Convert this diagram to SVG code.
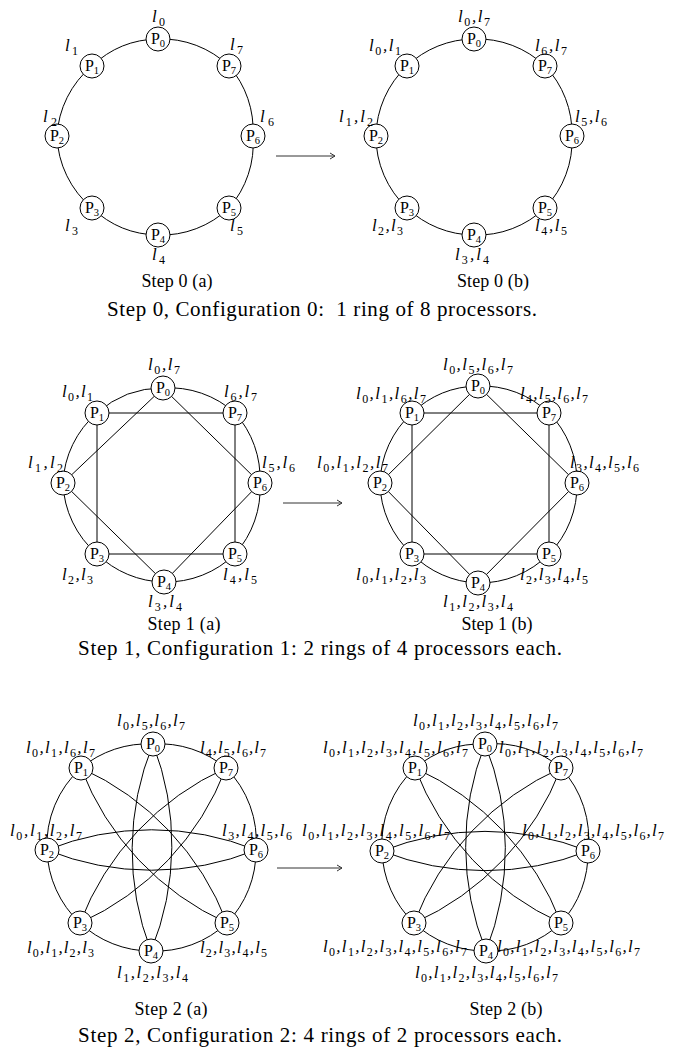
<svg xmlns="http://www.w3.org/2000/svg" width="678" height="1047" viewBox="0 0 678 1047">
<defs>
<style>
.nd circle{fill:#fff;stroke:#000;stroke-width:1}
.nt{font-family:"Liberation Serif",serif;font-size:16px;text-anchor:middle;fill:#000}
.ns{font-size:10.5px}
.lb{font-family:"Liberation Serif",serif;font-size:17px;font-style:italic;fill:#000}
.s{font-size:12px;font-style:normal}
.st{font-family:"Liberation Serif",serif;font-size:18px;text-anchor:middle;fill:#000}
.cap{font-family:"Liberation Serif",serif;font-size:21px;fill:#000}
#connectors path{fill:none;stroke:#000;stroke-width:1}
#connectors .ar{stroke:#333}
</style>
<marker id="ah" markerWidth="8" markerHeight="8" refX="7" refY="4" orient="auto" markerUnits="userSpaceOnUse">
<path d="M2,1 L7,4 L2,7" fill="none" stroke="#333" stroke-width="1"/>
</marker>
</defs>
<rect width="678" height="1047" fill="#fff"/>
<g id="connectors">
<path d="M158,39 A98,98 0 0 0 92,66 A98,98 0 0 0 57,136 A98,98 0 0 0 92,208 A98,98 0 0 0 158,235 A98,98 0 0 0 229,208 A98,98 0 0 0 253,136 A98,98 0 0 0 229,66 A98,98 0 0 0 158,39"/>
<path d="M474,39 A98,98 0 0 0 407,66 A98,98 0 0 0 376,136 A98,98 0 0 0 407,208 A98,98 0 0 0 474,235 A98,98 0 0 0 545,208 A98,98 0 0 0 572,136 A98,98 0 0 0 545,66 A98,98 0 0 0 474,39"/>
<path class="ar" d="M276,156 L335,156" marker-end="url(#ah)"/>
<path d="M163,388 A98,98 0 0 0 97,413 A98,98 0 0 0 63,483 A98,98 0 0 0 97,554 A98,98 0 0 0 164,582 A98,98 0 0 0 235,554 A98,98 0 0 0 260,483 A98,98 0 0 0 235,413 A98,98 0 0 0 163,388"/>
<path d="M97,413 L235,413 L235,554 L97,554 Z M163,388 L260,483 L164,582 L63,483 Z"/>
<path d="M478,386 A98,98 0 0 0 412,413 A98,98 0 0 0 380,483 A98,98 0 0 0 412,554 A98,98 0 0 0 478,583 A98,98 0 0 0 549,554 A98,98 0 0 0 577,483 A98,98 0 0 0 549,413 A98,98 0 0 0 478,386"/>
<path d="M412,413 L549,413 L549,554 L412,554 Z M478,386 L577,483 L478,583 L380,483 Z"/>
<path class="ar" d="M283,503 L342,503" marker-end="url(#ah)"/>
<path d="M153,744 A104,104 0 0 0 81,768 A104,104 0 0 0 47,850 A104,104 0 0 0 80,923 A104,104 0 0 0 151,951 A104,104 0 0 0 227,923 A104,104 0 0 0 256,850 A104,104 0 0 0 226,768 A104,104 0 0 0 153,744"/>
<path d="M153,744 A280,280 0 0 0 151,951 A280,280 0 0 0 153,744 M47,850 A280,280 0 0 0 256,850 A280,280 0 0 0 47,850 M81,768 A280,280 0 0 0 227,923 A280,280 0 0 0 81,768 M80,923 A280,280 0 0 0 226,768 A280,280 0 0 0 80,923"/>
<path d="M485,744 A104,104 0 0 0 415,768 A104,104 0 0 0 382,851 A104,104 0 0 0 414,923 A104,104 0 0 0 486,951 A104,104 0 0 0 561,923 A104,104 0 0 0 588,851 A104,104 0 0 0 561,768 A104,104 0 0 0 485,744"/>
<path d="M485,744 A280,280 0 0 0 486,951 A280,280 0 0 0 485,744 M382,851 A280,280 0 0 0 588,851 A280,280 0 0 0 382,851 M415,768 A280,280 0 0 0 561,923 A280,280 0 0 0 415,768 M414,923 A280,280 0 0 0 561,768 A280,280 0 0 0 414,923"/>
<path class="ar" d="M277,868 L342,868" marker-end="url(#ah)"/>
</g>

<g id="s0a-P0" class="nd"><circle cx="158" cy="39" r="12"/><text class="nt" x="158" y="44">P<tspan class="ns" dy="3">0</tspan></text><text class="lb" x="152" y="22" textLength="13">l<tspan class="s" dy="4">0</tspan></text></g>
<g id="s0a-P1" class="nd"><circle cx="92" cy="66" r="12"/><text class="nt" x="92" y="71">P<tspan class="ns" dy="3">1</tspan></text><text class="lb" x="65" y="51" textLength="13">l<tspan class="s" dy="4">1</tspan></text></g>
<g id="s0a-P2" class="nd"><circle cx="57" cy="136" r="12"/><text class="nt" x="57" y="141">P<tspan class="ns" dy="3">2</tspan></text><text class="lb" x="43" y="122" textLength="14">l<tspan class="s" dy="4">2</tspan></text></g>
<g id="s0a-P3" class="nd"><circle cx="92" cy="208" r="12"/><text class="nt" x="92" y="213">P<tspan class="ns" dy="3">3</tspan></text><text class="lb" x="65" y="231" textLength="13">l<tspan class="s" dy="4">3</tspan></text></g>
<g id="s0a-P4" class="nd"><circle cx="158" cy="235" r="12"/><text class="nt" x="158" y="240">P<tspan class="ns" dy="3">4</tspan></text><text class="lb" x="152" y="260" textLength="13">l<tspan class="s" dy="4">4</tspan></text></g>
<g id="s0a-P5" class="nd"><circle cx="229" cy="208" r="12"/><text class="nt" x="229" y="213">P<tspan class="ns" dy="3">5</tspan></text><text class="lb" x="230" y="231" textLength="13">l<tspan class="s" dy="4">5</tspan></text></g>
<g id="s0a-P6" class="nd"><circle cx="253" cy="136" r="12"/><text class="nt" x="253" y="141">P<tspan class="ns" dy="3">6</tspan></text><text class="lb" x="260" y="122" textLength="14">l<tspan class="s" dy="4">6</tspan></text></g>
<g id="s0a-P7" class="nd"><circle cx="229" cy="66" r="12"/><text class="nt" x="229" y="71">P<tspan class="ns" dy="3">7</tspan></text><text class="lb" x="230" y="50" textLength="13">l<tspan class="s" dy="4">7</tspan></text></g>

<g id="s0b-P0" class="nd"><circle cx="474" cy="39" r="12"/><text class="nt" x="474" y="44">P<tspan class="ns" dy="3">0</tspan></text><text class="lb" x="458" y="22" textLength="32">l<tspan class="s" dy="4">0</tspan><tspan dy="-4">,l</tspan><tspan class="s" dy="4">7</tspan></text></g>
<g id="s0b-P1" class="nd"><circle cx="407" cy="66" r="12"/><text class="nt" x="407" y="71">P<tspan class="ns" dy="3">1</tspan></text><text class="lb" x="369" y="51" textLength="32">l<tspan class="s" dy="4">0</tspan><tspan dy="-4">,l</tspan><tspan class="s" dy="4">1</tspan></text></g>
<g id="s0b-P2" class="nd"><circle cx="376" cy="136" r="12"/><text class="nt" x="376" y="141">P<tspan class="ns" dy="3">2</tspan></text><text class="lb" x="339" y="122" textLength="34">l<tspan class="s" dy="4">1</tspan><tspan dy="-4">,l</tspan><tspan class="s" dy="4">2</tspan></text></g>
<g id="s0b-P3" class="nd"><circle cx="407" cy="208" r="12"/><text class="nt" x="407" y="213">P<tspan class="ns" dy="3">3</tspan></text><text class="lb" x="372" y="231" textLength="31">l<tspan class="s" dy="4">2</tspan><tspan dy="-4">,l</tspan><tspan class="s" dy="4">3</tspan></text></g>
<g id="s0b-P4" class="nd"><circle cx="474" cy="235" r="12"/><text class="nt" x="474" y="240">P<tspan class="ns" dy="3">4</tspan></text><text class="lb" x="455" y="260" textLength="34">l<tspan class="s" dy="4">3</tspan><tspan dy="-4">,l</tspan><tspan class="s" dy="4">4</tspan></text></g>
<g id="s0b-P5" class="nd"><circle cx="545" cy="208" r="12"/><text class="nt" x="545" y="213">P<tspan class="ns" dy="3">5</tspan></text><text class="lb" x="535" y="231" textLength="32">l<tspan class="s" dy="4">4</tspan><tspan dy="-4">,l</tspan><tspan class="s" dy="4">5</tspan></text></g>
<g id="s0b-P6" class="nd"><circle cx="572" cy="136" r="12"/><text class="nt" x="572" y="141">P<tspan class="ns" dy="3">6</tspan></text><text class="lb" x="575" y="122" textLength="32">l<tspan class="s" dy="4">5</tspan><tspan dy="-4">,l</tspan><tspan class="s" dy="4">6</tspan></text></g>
<g id="s0b-P7" class="nd"><circle cx="545" cy="66" r="12"/><text class="nt" x="545" y="71">P<tspan class="ns" dy="3">7</tspan></text><text class="lb" x="535" y="51" textLength="32">l<tspan class="s" dy="4">6</tspan><tspan dy="-4">,l</tspan><tspan class="s" dy="4">7</tspan></text></g>

<g id="s0-labels">
<text class="st" x="177" y="287" textLength="71">Step 0 (a)</text>
<text class="st" x="493" y="287" textLength="72">Step 0 (b)</text>
<text class="cap" x="107" y="316" textLength="430">Step 0, Configuration 0:&#160; 1 ring of 8 processors.</text>
</g>

<g id="s1a-P0" class="nd"><circle cx="163" cy="388" r="12"/><text class="nt" x="163" y="393">P<tspan class="ns" dy="3">0</tspan></text><text class="lb" x="148" y="370" textLength="32">l<tspan class="s" dy="4">0</tspan><tspan dy="-4">,l</tspan><tspan class="s" dy="4">7</tspan></text></g>
<g id="s1a-P1" class="nd"><circle cx="97" cy="413" r="12"/><text class="nt" x="97" y="418">P<tspan class="ns" dy="3">1</tspan></text><text class="lb" x="62" y="397" textLength="31">l<tspan class="s" dy="4">0</tspan><tspan dy="-4">,l</tspan><tspan class="s" dy="4">1</tspan></text></g>
<g id="s1a-P2" class="nd"><circle cx="63" cy="483" r="12"/><text class="nt" x="63" y="488">P<tspan class="ns" dy="3">2</tspan></text><text class="lb" x="28" y="468" textLength="35">l<tspan class="s" dy="4">1</tspan><tspan dy="-4">,l</tspan><tspan class="s" dy="4">2</tspan></text></g>
<g id="s1a-P3" class="nd"><circle cx="97" cy="554" r="12"/><text class="nt" x="97" y="559">P<tspan class="ns" dy="3">3</tspan></text><text class="lb" x="62" y="580" textLength="31">l<tspan class="s" dy="4">2</tspan><tspan dy="-4">,l</tspan><tspan class="s" dy="4">3</tspan></text></g>
<g id="s1a-P4" class="nd"><circle cx="164" cy="582" r="12"/><text class="nt" x="164" y="587">P<tspan class="ns" dy="3">4</tspan></text><text class="lb" x="148" y="607" textLength="34">l<tspan class="s" dy="4">3</tspan><tspan dy="-4">,l</tspan><tspan class="s" dy="4">4</tspan></text></g>
<g id="s1a-P5" class="nd"><circle cx="235" cy="554" r="12"/><text class="nt" x="235" y="559">P<tspan class="ns" dy="3">5</tspan></text><text class="lb" x="223" y="580" textLength="34">l<tspan class="s" dy="4">4</tspan><tspan dy="-4">,l</tspan><tspan class="s" dy="4">5</tspan></text></g>
<g id="s1a-P6" class="nd"><circle cx="260" cy="483" r="12"/><text class="nt" x="260" y="488">P<tspan class="ns" dy="3">6</tspan></text><text class="lb" x="262" y="468" textLength="33">l<tspan class="s" dy="4">5</tspan><tspan dy="-4">,l</tspan><tspan class="s" dy="4">6</tspan></text></g>
<g id="s1a-P7" class="nd"><circle cx="235" cy="413" r="12"/><text class="nt" x="235" y="418">P<tspan class="ns" dy="3">7</tspan></text><text class="lb" x="224" y="397" textLength="33">l<tspan class="s" dy="4">6</tspan><tspan dy="-4">,l</tspan><tspan class="s" dy="4">7</tspan></text></g>

<g id="s1b-P0" class="nd"><circle cx="478" cy="386" r="12"/><text class="nt" x="478" y="391">P<tspan class="ns" dy="3">0</tspan></text><text class="lb" x="443" y="370" textLength="70">l<tspan class="s" dy="4">0</tspan><tspan dy="-4">,l</tspan><tspan class="s" dy="4">5</tspan><tspan dy="-4">,l</tspan><tspan class="s" dy="4">6</tspan><tspan dy="-4">,l</tspan><tspan class="s" dy="4">7</tspan></text></g>
<g id="s1b-P1" class="nd"><circle cx="412" cy="413" r="12"/><text class="nt" x="412" y="418">P<tspan class="ns" dy="3">1</tspan></text><text class="lb" x="356" y="399" textLength="70">l<tspan class="s" dy="4">0</tspan><tspan dy="-4">,l</tspan><tspan class="s" dy="4">1</tspan><tspan dy="-4">,l</tspan><tspan class="s" dy="4">6</tspan><tspan dy="-4">,l</tspan><tspan class="s" dy="4">7</tspan></text></g>
<g id="s1b-P2" class="nd"><circle cx="380" cy="483" r="12"/><text class="nt" x="380" y="488">P<tspan class="ns" dy="3">2</tspan></text><text class="lb" x="317" y="468" textLength="71">l<tspan class="s" dy="4">0</tspan><tspan dy="-4">,l</tspan><tspan class="s" dy="4">1</tspan><tspan dy="-4">,l</tspan><tspan class="s" dy="4">2</tspan><tspan dy="-4">,l</tspan><tspan class="s" dy="4">7</tspan></text></g>
<g id="s1b-P3" class="nd"><circle cx="412" cy="554" r="12"/><text class="nt" x="412" y="559">P<tspan class="ns" dy="3">3</tspan></text><text class="lb" x="356" y="580" textLength="70">l<tspan class="s" dy="4">0</tspan><tspan dy="-4">,l</tspan><tspan class="s" dy="4">1</tspan><tspan dy="-4">,l</tspan><tspan class="s" dy="4">2</tspan><tspan dy="-4">,l</tspan><tspan class="s" dy="4">3</tspan></text></g>
<g id="s1b-P4" class="nd"><circle cx="478" cy="583" r="12"/><text class="nt" x="478" y="588">P<tspan class="ns" dy="3">4</tspan></text><text class="lb" x="443" y="607" textLength="70">l<tspan class="s" dy="4">1</tspan><tspan dy="-4">,l</tspan><tspan class="s" dy="4">2</tspan><tspan dy="-4">,l</tspan><tspan class="s" dy="4">3</tspan><tspan dy="-4">,l</tspan><tspan class="s" dy="4">4</tspan></text></g>
<g id="s1b-P5" class="nd"><circle cx="549" cy="554" r="12"/><text class="nt" x="549" y="559">P<tspan class="ns" dy="3">5</tspan></text><text class="lb" x="520" y="580" textLength="68">l<tspan class="s" dy="4">2</tspan><tspan dy="-4">,l</tspan><tspan class="s" dy="4">3</tspan><tspan dy="-4">,l</tspan><tspan class="s" dy="4">4</tspan><tspan dy="-4">,l</tspan><tspan class="s" dy="4">5</tspan></text></g>
<g id="s1b-P6" class="nd"><circle cx="577" cy="483" r="12"/><text class="nt" x="577" y="488">P<tspan class="ns" dy="3">6</tspan></text><text class="lb" x="570" y="468" textLength="69">l<tspan class="s" dy="4">3</tspan><tspan dy="-4">,l</tspan><tspan class="s" dy="4">4</tspan><tspan dy="-4">,l</tspan><tspan class="s" dy="4">5</tspan><tspan dy="-4">,l</tspan><tspan class="s" dy="4">6</tspan></text></g>
<g id="s1b-P7" class="nd"><circle cx="549" cy="413" r="12"/><text class="nt" x="549" y="418">P<tspan class="ns" dy="3">7</tspan></text><text class="lb" x="520" y="399" textLength="68">l<tspan class="s" dy="4">4</tspan><tspan dy="-4">,l</tspan><tspan class="s" dy="4">5</tspan><tspan dy="-4">,l</tspan><tspan class="s" dy="4">6</tspan><tspan dy="-4">,l</tspan><tspan class="s" dy="4">7</tspan></text></g>

<g id="s1-labels">
<text class="st" x="184" y="630" textLength="73">Step 1 (a)</text>
<text class="st" x="497" y="630" textLength="71">Step 1 (b)</text>
<text class="cap" x="78" y="655" textLength="484">Step 1, Configuration 1: 2 rings of 4 processors each.</text>
</g>

<g id="s2a-P0" class="nd"><circle cx="153" cy="744" r="12"/><text class="nt" x="153" y="749">P<tspan class="ns" dy="3">0</tspan></text><text class="lb" x="117" y="726" textLength="68">l<tspan class="s" dy="4">0</tspan><tspan dy="-4">,l</tspan><tspan class="s" dy="4">5</tspan><tspan dy="-4">,l</tspan><tspan class="s" dy="4">6</tspan><tspan dy="-4">,l</tspan><tspan class="s" dy="4">7</tspan></text></g>
<g id="s2a-P1" class="nd"><circle cx="81" cy="768" r="12"/><text class="nt" x="81" y="773">P<tspan class="ns" dy="3">1</tspan></text><text class="lb" x="26" y="753" textLength="69">l<tspan class="s" dy="4">0</tspan><tspan dy="-4">,l</tspan><tspan class="s" dy="4">1</tspan><tspan dy="-4">,l</tspan><tspan class="s" dy="4">6</tspan><tspan dy="-4">,l</tspan><tspan class="s" dy="4">7</tspan></text></g>
<g id="s2a-P2" class="nd"><circle cx="47" cy="850" r="12"/><text class="nt" x="47" y="855">P<tspan class="ns" dy="3">2</tspan></text><text class="lb" x="10" y="836" textLength="72">l<tspan class="s" dy="4">0</tspan><tspan dy="-4">,l</tspan><tspan class="s" dy="4">1</tspan><tspan dy="-4">,l</tspan><tspan class="s" dy="4">2</tspan><tspan dy="-4">,l</tspan><tspan class="s" dy="4">7</tspan></text></g>
<g id="s2a-P3" class="nd"><circle cx="80" cy="923" r="12"/><text class="nt" x="80" y="928">P<tspan class="ns" dy="3">3</tspan></text><text class="lb" x="27" y="953" textLength="67">l<tspan class="s" dy="4">0</tspan><tspan dy="-4">,l</tspan><tspan class="s" dy="4">1</tspan><tspan dy="-4">,l</tspan><tspan class="s" dy="4">2</tspan><tspan dy="-4">,l</tspan><tspan class="s" dy="4">3</tspan></text></g>
<g id="s2a-P4" class="nd"><circle cx="151" cy="951" r="12"/><text class="nt" x="151" y="956">P<tspan class="ns" dy="3">4</tspan></text><text class="lb" x="117" y="978" textLength="71">l<tspan class="s" dy="4">1</tspan><tspan dy="-4">,l</tspan><tspan class="s" dy="4">2</tspan><tspan dy="-4">,l</tspan><tspan class="s" dy="4">3</tspan><tspan dy="-4">,l</tspan><tspan class="s" dy="4">4</tspan></text></g>
<g id="s2a-P5" class="nd"><circle cx="227" cy="923" r="12"/><text class="nt" x="227" y="928">P<tspan class="ns" dy="3">5</tspan></text><text class="lb" x="200" y="953" textLength="67">l<tspan class="s" dy="4">2</tspan><tspan dy="-4">,l</tspan><tspan class="s" dy="4">3</tspan><tspan dy="-4">,l</tspan><tspan class="s" dy="4">4</tspan><tspan dy="-4">,l</tspan><tspan class="s" dy="4">5</tspan></text></g>
<g id="s2a-P6" class="nd"><circle cx="256" cy="850" r="12"/><text class="nt" x="256" y="855">P<tspan class="ns" dy="3">6</tspan></text><text class="lb" x="222" y="836" textLength="70">l<tspan class="s" dy="4">3</tspan><tspan dy="-4">,l</tspan><tspan class="s" dy="4">4</tspan><tspan dy="-4">,l</tspan><tspan class="s" dy="4">5</tspan><tspan dy="-4">,l</tspan><tspan class="s" dy="4">6</tspan></text></g>
<g id="s2a-P7" class="nd"><circle cx="226" cy="768" r="12"/><text class="nt" x="226" y="773">P<tspan class="ns" dy="3">7</tspan></text><text class="lb" x="200" y="753" textLength="66">l<tspan class="s" dy="4">4</tspan><tspan dy="-4">,l</tspan><tspan class="s" dy="4">5</tspan><tspan dy="-4">,l</tspan><tspan class="s" dy="4">6</tspan><tspan dy="-4">,l</tspan><tspan class="s" dy="4">7</tspan></text></g>

<g id="s2b-P0" class="nd"><circle cx="485" cy="744" r="12"/><text class="nt" x="485" y="749">P<tspan class="ns" dy="3">0</tspan></text><text class="lb" x="413" y="726" textLength="145">l<tspan class="s" dy="4">0</tspan><tspan dy="-4">,l</tspan><tspan class="s" dy="4">1</tspan><tspan dy="-4">,l</tspan><tspan class="s" dy="4">2</tspan><tspan dy="-4">,l</tspan><tspan class="s" dy="4">3</tspan><tspan dy="-4">,l</tspan><tspan class="s" dy="4">4</tspan><tspan dy="-4">,l</tspan><tspan class="s" dy="4">5</tspan><tspan dy="-4">,l</tspan><tspan class="s" dy="4">6</tspan><tspan dy="-4">,l</tspan><tspan class="s" dy="4">7</tspan></text></g>
<g id="s2b-P1" class="nd"><circle cx="415" cy="768" r="12"/><text class="nt" x="415" y="773">P<tspan class="ns" dy="3">1</tspan></text><text class="lb" x="323" y="753" textLength="145">l<tspan class="s" dy="4">0</tspan><tspan dy="-4">,l</tspan><tspan class="s" dy="4">1</tspan><tspan dy="-4">,l</tspan><tspan class="s" dy="4">2</tspan><tspan dy="-4">,l</tspan><tspan class="s" dy="4">3</tspan><tspan dy="-4">,l</tspan><tspan class="s" dy="4">4</tspan><tspan dy="-4">,l</tspan><tspan class="s" dy="4">5</tspan><tspan dy="-4">,l</tspan><tspan class="s" dy="4">6</tspan><tspan dy="-4">,l</tspan><tspan class="s" dy="4">7</tspan></text></g>
<g id="s2b-P2" class="nd"><circle cx="382" cy="851" r="12"/><text class="nt" x="382" y="856">P<tspan class="ns" dy="3">2</tspan></text><text class="lb" x="302" y="836" textLength="148">l<tspan class="s" dy="4">0</tspan><tspan dy="-4">,l</tspan><tspan class="s" dy="4">1</tspan><tspan dy="-4">,l</tspan><tspan class="s" dy="4">2</tspan><tspan dy="-4">,l</tspan><tspan class="s" dy="4">3</tspan><tspan dy="-4">,l</tspan><tspan class="s" dy="4">4</tspan><tspan dy="-4">,l</tspan><tspan class="s" dy="4">5</tspan><tspan dy="-4">,l</tspan><tspan class="s" dy="4">6</tspan><tspan dy="-4">,l</tspan><tspan class="s" dy="4">7</tspan></text></g>
<g id="s2b-P3" class="nd"><circle cx="414" cy="923" r="12"/><text class="nt" x="414" y="928">P<tspan class="ns" dy="3">3</tspan></text><text class="lb" x="323" y="952" textLength="144">l<tspan class="s" dy="4">0</tspan><tspan dy="-4">,l</tspan><tspan class="s" dy="4">1</tspan><tspan dy="-4">,l</tspan><tspan class="s" dy="4">2</tspan><tspan dy="-4">,l</tspan><tspan class="s" dy="4">3</tspan><tspan dy="-4">,l</tspan><tspan class="s" dy="4">4</tspan><tspan dy="-4">,l</tspan><tspan class="s" dy="4">5</tspan><tspan dy="-4">,l</tspan><tspan class="s" dy="4">6</tspan><tspan dy="-4">,l</tspan><tspan class="s" dy="4">7</tspan></text></g>
<g id="s2b-P4" class="nd"><circle cx="486" cy="951" r="12"/><text class="nt" x="486" y="956">P<tspan class="ns" dy="3">4</tspan></text><text class="lb" x="415" y="978" textLength="143">l<tspan class="s" dy="4">0</tspan><tspan dy="-4">,l</tspan><tspan class="s" dy="4">1</tspan><tspan dy="-4">,l</tspan><tspan class="s" dy="4">2</tspan><tspan dy="-4">,l</tspan><tspan class="s" dy="4">3</tspan><tspan dy="-4">,l</tspan><tspan class="s" dy="4">4</tspan><tspan dy="-4">,l</tspan><tspan class="s" dy="4">5</tspan><tspan dy="-4">,l</tspan><tspan class="s" dy="4">6</tspan><tspan dy="-4">,l</tspan><tspan class="s" dy="4">7</tspan></text></g>
<g id="s2b-P5" class="nd"><circle cx="561" cy="923" r="12"/><text class="nt" x="561" y="928">P<tspan class="ns" dy="3">5</tspan></text><text class="lb" x="497" y="952" textLength="143">l<tspan class="s" dy="4">0</tspan><tspan dy="-4">,l</tspan><tspan class="s" dy="4">1</tspan><tspan dy="-4">,l</tspan><tspan class="s" dy="4">2</tspan><tspan dy="-4">,l</tspan><tspan class="s" dy="4">3</tspan><tspan dy="-4">,l</tspan><tspan class="s" dy="4">4</tspan><tspan dy="-4">,l</tspan><tspan class="s" dy="4">5</tspan><tspan dy="-4">,l</tspan><tspan class="s" dy="4">6</tspan><tspan dy="-4">,l</tspan><tspan class="s" dy="4">7</tspan></text></g>
<g id="s2b-P6" class="nd"><circle cx="588" cy="851" r="12"/><text class="nt" x="588" y="856">P<tspan class="ns" dy="3">6</tspan></text><text class="lb" x="522" y="836" textLength="142">l<tspan class="s" dy="4">0</tspan><tspan dy="-4">,l</tspan><tspan class="s" dy="4">1</tspan><tspan dy="-4">,l</tspan><tspan class="s" dy="4">2</tspan><tspan dy="-4">,l</tspan><tspan class="s" dy="4">3</tspan><tspan dy="-4">,l</tspan><tspan class="s" dy="4">4</tspan><tspan dy="-4">,l</tspan><tspan class="s" dy="4">5</tspan><tspan dy="-4">,l</tspan><tspan class="s" dy="4">6</tspan><tspan dy="-4">,l</tspan><tspan class="s" dy="4">7</tspan></text></g>
<g id="s2b-P7" class="nd"><circle cx="561" cy="768" r="12"/><text class="nt" x="561" y="773">P<tspan class="ns" dy="3">7</tspan></text><text class="lb" x="499" y="753" textLength="144">l<tspan class="s" dy="4">0</tspan><tspan dy="-4">,l</tspan><tspan class="s" dy="4">1</tspan><tspan dy="-4">,l</tspan><tspan class="s" dy="4">2</tspan><tspan dy="-4">,l</tspan><tspan class="s" dy="4">3</tspan><tspan dy="-4">,l</tspan><tspan class="s" dy="4">4</tspan><tspan dy="-4">,l</tspan><tspan class="s" dy="4">5</tspan><tspan dy="-4">,l</tspan><tspan class="s" dy="4">6</tspan><tspan dy="-4">,l</tspan><tspan class="s" dy="4">7</tspan></text></g>

<g id="s2-labels">
<text class="st" x="171" y="1015" textLength="73">Step 2 (a)</text>
<text class="st" x="506" y="1015" textLength="73">Step 2 (b)</text>
<text class="cap" x="78" y="1042" textLength="484">Step 2, Configuration 2: 4 rings of 2 processors each.</text>
</g>
</svg>
